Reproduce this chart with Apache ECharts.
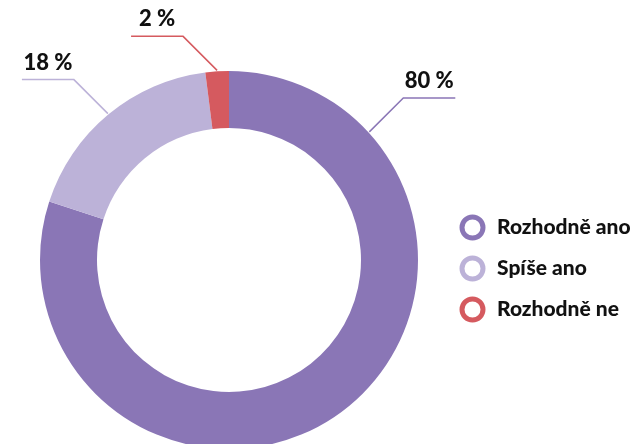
<!DOCTYPE html>
<html>
<head>
<meta charset="utf-8">
<script src="https://cdn.jsdelivr.net/npm/echarts@6/dist/echarts.min.js"></script>
<style>
  html, body { margin: 0; padding: 0; background: #fff; }
  #chart { width: 631px; height: 444px; }
</style>
</head>
<body>
<div id="chart"></div>
<script>
const categories = ['Rozhodně ano', 'Spíše ano', 'Rozhodně ne'];
const values = [80, 18, 2];
const colors = ['#8a76b6', '#bcb2d8', '#d55a5f'];

const CX = 229, CY = 260, R_IN = 132, R_OUT = 189;

// angle (deg, math convention) where each label line leaves the ring
const total = values.reduce((a, b) => a + b, 0);
function labelAngle(i) {
  if (i === 0) return 42.4; // first label sits at the upper right
  let before = 0;
  for (let k = 0; k < i; k++) before += values[k];
  const midCw = (before + values[i] / 2) / total * 360;
  return 90 - midCw;
}

const chart = echarts.init(document.getElementById('chart'), null, { renderer: 'canvas' });

chart.setOption({
  backgroundColor: '#fff',
  animation: false,
  color: colors,
  legend: {
    orient: 'vertical',
    left: 459.5,
    top: 214.5,
    padding: 0,
    itemWidth: 21,
    itemHeight: 21,
    itemGap: 15,
    icon: 'circle',
    textStyle: {
      fontFamily: 'Lato, sans-serif',
      fontWeight: 900,
      fontSize: 21,
      color: '#111',
      padding: [0, 0, 0, 9]
    },
    data: categories.map((name, i) => ({
      name,
      itemStyle: { color: '#fff', borderColor: colors[i], borderWidth: 5 }
    }))
  },
  series: [{
    type: 'pie',
    center: [CX, CY],
    radius: [R_IN, R_OUT],
    startAngle: 90,
    clockwise: true,
    avoidLabelOverlap: false,
    label: {
      show: true,
      position: 'outside',
      formatter: '{c} %',
      fontFamily: 'Lato, sans-serif',
      fontWeight: 900,
      fontSize: 22,
      color: '#111'
    },
    labelLine: {
      show: true,
      length: 40,
      length2: 50,
      lineStyle: { width: 1.5 }
    },
    emphasis: { disabled: true },
    labelLayout(p) {
      const i = p.dataIndex;
      const a = labelAngle(i) * Math.PI / 180;
      const sx = CX + (R_OUT + 1) * Math.cos(a);
      const sy = CY - (R_OUT + 1) * Math.sin(a);
      const dir = Math.cos(a) >= 0 ? 1 : -1;
      const ex = sx + dir * 34, ey = sy - 34;
      const hx = ex + dir * 52;
      return {
        x: (ex + hx) / 2,
        y: ey - 6,
        align: 'center',
        verticalAlign: 'bottom',
        labelLinePoints: [[sx, sy], [ex, ey], [hx, ey]]
      };
    },
    data: categories.map((name, i) => ({ name, value: values[i] }))
  }]
});
</script>
</body>
</html>
